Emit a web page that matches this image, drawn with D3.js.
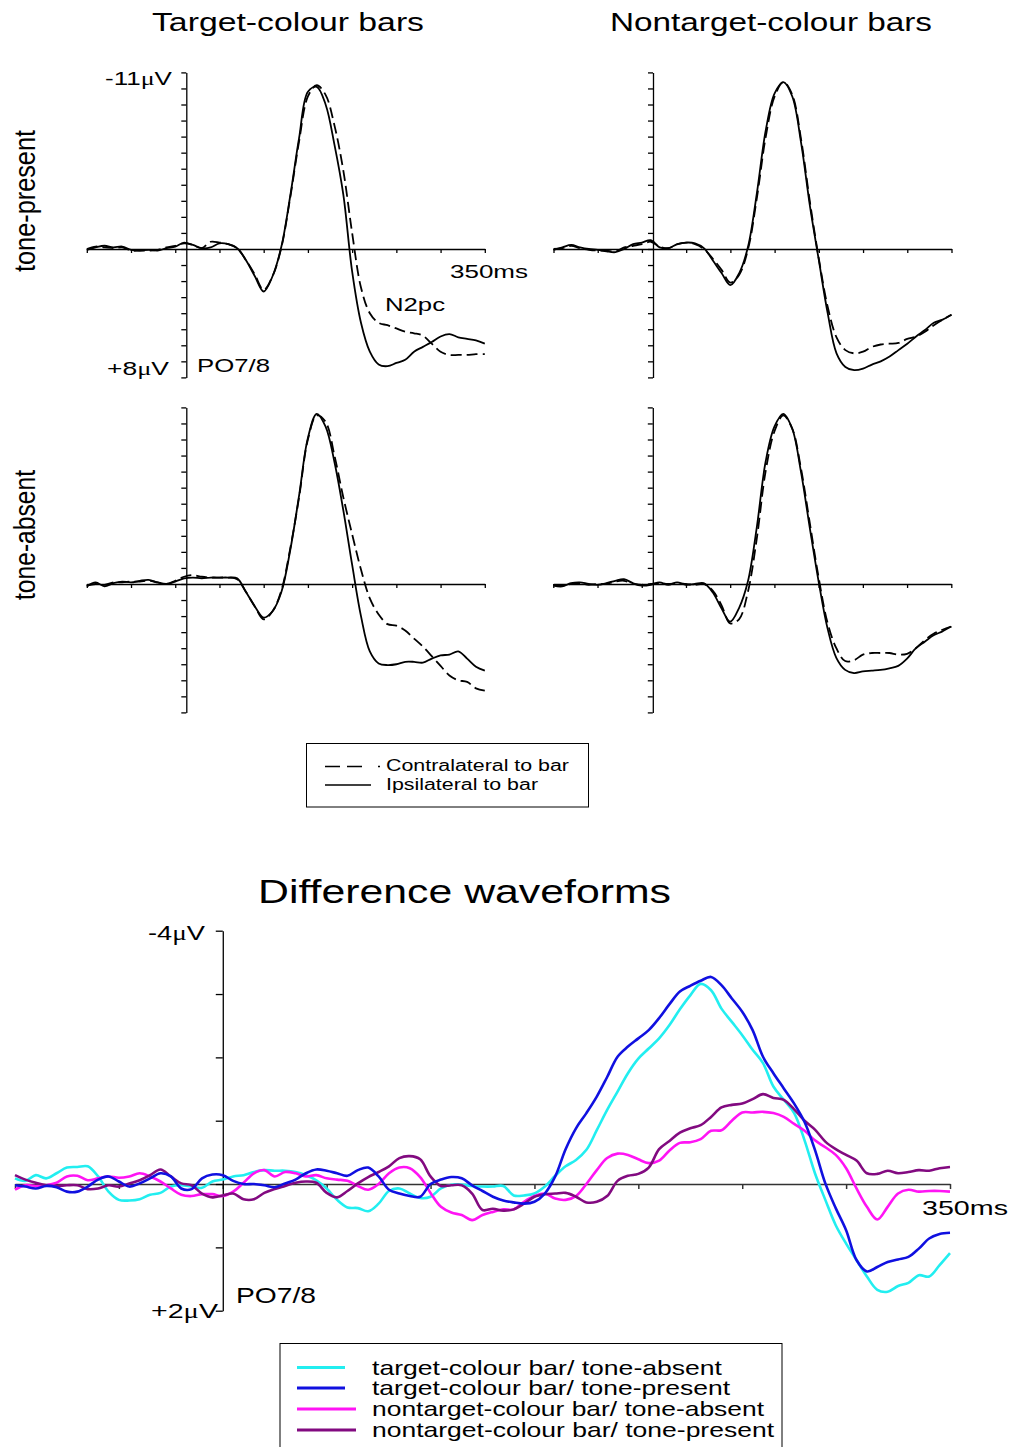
<!DOCTYPE html>
<html>
<head>
<meta charset="utf-8">
<script src="https://cdn.jsdelivr.net/npm/d3@7.9.0/dist/d3.min.js"></script>
<style>
  html, body { margin: 0; padding: 0; background: #fff; }
  svg { display: block; font-family: "Liberation Sans", Arial, sans-serif; }
</style>
</head>
<body>
<svg id="chart" width="1012" height="1447"></svg>
<script>
// time grids (ms)
const erpTimes = d3.range(-100, 351, 10);
const diffTimes = d3.range(-100, 351, 5);

// grand-average ERPs at PO7/8 (µV, positive = down), one value per erpTimes
const tpTargetIpsi = [0.05, -0.1, -0.2, -0.1, -0.15, 0.05, 0.1, 0.05, 0.1, -0.05,
  -0.15, -0.4, -0.25, -0.05, -0.1, -0.35, -0.3, -0.05, 0.7, 1.7,
  2.65, 1.7, -0.15, -3.3, -6.9, -9.8, -10.1, -9.0, -6.5, -3.4,
  1.4, 4.6, 6.4, 7.2, 7.3, 7.1, 6.9, 6.4, 6.1, 5.8,
  5.45, 5.3, 5.5, 5.6, 5.7, 5.9];
const tpTargetContra = [0.0, -0.15, -0.1, -0.05, -0.1, 0.1, 0.1, 0.1, 0.05, -0.1,
  -0.2, -0.35, -0.25, -0.05, -0.45, -0.4, -0.3, -0.05, 0.7, 1.6,
  2.55, 1.7, -0.1, -3.2, -6.7, -9.5, -10.2, -9.6, -7.7, -4.9,
  -1.0, 2.4, 4.0, 4.6, 4.75, 4.95, 5.15, 5.25, 5.4, 5.9,
  6.4, 6.6, 6.6, 6.6, 6.55, 6.55];
const tpNontargetIpsi = [0.05, -0.1, -0.25, -0.1, 0, 0.05, 0.15, 0.2, 0, -0.3,
  -0.4, -0.55, -0.1, -0.05, -0.3, -0.4, -0.35, -0.05, 0.7, 1.5,
  2.25, 1.5, -0.15, -3.5, -7.4, -9.7, -10.4, -9.5, -6.6, -2.65,
  0.7, 4.0, 6.5, 7.35, 7.55, 7.45, 7.2, 7.0, 6.7, 6.3,
  5.9, 5.45, 5.05, 4.6, 4.4, 4.1];
const tpNontargetContra = [0.0, -0.05, -0.2, -0.05, 0.05, 0.1, 0.1, 0.15, -0.1, -0.2,
  -0.3, -0.45, -0.15, -0.05, -0.3, -0.4, -0.3, 0.0, 0.6, 1.3,
  2.1, 1.6, 0.0, -3.2, -7.0, -9.5, -10.4, -9.6, -6.8, -2.9,
  0.6, 3.6, 5.5, 6.3, 6.5, 6.4, 6.1, 5.95, 5.9, 5.85,
  5.6, 5.45, 5.15, 4.75, 4.4, 4.1];
const taTargetIpsi = [0.15, -0.1, 0.15, -0.05, -0.15, -0.1, -0.2, -0.25, -0.1, 0.0,
  -0.15, -0.35, -0.4, -0.35, -0.4, -0.4, -0.4, -0.35, 0.5, 1.4,
  2.1, 1.7, 0.5, -2.1, -5.5, -9.1, -10.6, -9.8, -7.6, -4.6,
  -1.2, 2.0, 4.2, 4.95, 5.05, 5.0, 4.85, 4.85, 4.9, 4.65,
  4.45, 4.4, 4.2, 4.65, 5.15, 5.4];
const taTargetContra = [0.1, 0.0, 0.05, -0.1, -0.1, -0.15, -0.15, -0.2, -0.1, 0.0,
  -0.2, -0.45, -0.55, -0.45, -0.4, -0.4, -0.4, -0.3, 0.5, 1.4,
  2.2, 1.7, 0.4, -2.2, -5.4, -9.0, -10.5, -10.1, -8.0, -5.4,
  -3.1, -0.9, 0.9, 1.9, 2.5, 2.6, 2.9, 3.4, 3.9, 4.5,
  5.1, 5.7, 6.0, 6.1, 6.5, 6.65];
const taNontargetIpsi = [0.1, 0.15, -0.05, -0.1, 0.0, 0.05, -0.05, -0.2, -0.3, -0.05,
  0.1, 0.05, -0.1, 0.05, -0.1, 0.05, 0.0, -0.05, 0.5, 1.5,
  2.35, 1.5, -0.15, -3.5, -7.6, -9.8, -10.6, -9.7, -7.0, -3.5,
  -0.15, 2.75, 4.6, 5.35, 5.55, 5.45, 5.4, 5.35, 5.25, 5.1,
  4.65, 4.0, 3.6, 3.2, 2.95, 2.65];
const taNontargetContra = [0.05, 0.1, 0.0, -0.05, 0.05, 0.0, 0.0, -0.15, -0.2, 0.0,
  0.05, 0.0, -0.05, 0.0, -0.05, 0.0, 0.05, 0.0, 0.4, 1.3,
  2.45, 2.2, 0.5, -2.8, -7.0, -9.5, -10.5, -9.7, -7.2, -3.8,
  -0.4, 2.4, 4.0, 4.8, 4.75, 4.4, 4.3, 4.3, 4.3, 4.4,
  4.35, 4.0, 3.5, 3.1, 2.85, 2.65];

// contra minus ipsi difference waves (µV), one value per diffTimes
const diffTargetAbsent = [-0.09, -0.05, -0.14, -0.09, -0.17, -0.26, -0.27, -0.28, -0.12, 0.12,
  0.25, 0.26, 0.24, 0.17, 0.14, 0.04, 0.02, 0.04, 0.06, -0.04,
  -0.07, -0.12, -0.14, -0.19, -0.22, -0.21, -0.21, -0.19, -0.14, -0.06,
  0.07, 0.25, 0.37, 0.38, 0.43, 0.31, 0.11, 0.07, 0.15, 0.22,
  0.2, 0.07, 0.01, 0.01, 0.03, 0.04, 0.04, 0.03, 0.18, 0.18,
  0.15, 0.04, -0.13, -0.28, -0.38, -0.54, -0.85, -1.17, -1.46, -1.75,
  -1.98, -2.14, -2.3, -2.51, -2.76, -2.98, -3.16, -3.06, -2.77, -2.56,
  -2.35, -2.12, -1.91, -1.54, -1.33, -1.12, -0.69, -0.17, 0.25, 0.65,
  0.94, 1.2, 1.46, 1.67, 1.7, 1.61, 1.56, 1.44, 1.46, 1.28,
  1.09];
const diffTargetPresent = [0.02, 0.04, 0.07, 0.03, 0.05, 0.12, 0.12, 0.04, -0.07, -0.12,
  -0.04, 0.04, -0.01, -0.09, -0.17, -0.12, 0.07, 0.08, -0.09, -0.15,
  -0.14, -0.05, 0, 0, 0.02, 0.05, -0.01, -0.07, -0.17, -0.23,
  -0.21, -0.17, -0.13, -0.22, -0.26, -0.12, 0.09, 0.15, 0.19, 0.2,
  0, -0.07, -0.11, -0.09, 0.02, 0.11, 0.2, 0.26, 0.29, 0.31,
  0.28, 0.15, -0.12, -0.55, -0.88, -1.12, -1.38, -1.69, -2.01, -2.17,
  -2.3, -2.43, -2.62, -2.84, -3.04, -3.13, -3.21, -3.27, -3.14, -2.93,
  -2.72, -2.43, -2.01, -1.75, -1.51, -1.27, -0.98, -0.54, -0.01, 0.38,
  0.73, 1.2, 1.38, 1.31, 1.23, 1.19, 1.15, 1.02, 0.86, 0.79,
  0.77];
const diffNontargetAbsent = [0.09, 0.02, 0.03, 0.02, -0.02, -0.12, -0.13, -0.06, -0.09, -0.12,
  -0.1, -0.12, -0.17, -0.12, -0.04, 0.07, 0.17, 0.19, 0.16, 0.16,
  0.19, 0.12, -0.02, -0.17, -0.22, -0.12, -0.19, -0.17, -0.12, -0.14,
  -0.09, -0.07, -0.05, 0.03, 0.09, 0, -0.17, -0.26, -0.25, -0.11,
  0.14, 0.36, 0.45, 0.49, 0.57, 0.49, 0.44, 0.4, 0.4, 0.28,
  0.19, 0.15, 0.23, 0.25, 0.19, 0, -0.22, -0.41, -0.48, -0.46,
  -0.39, -0.33, -0.37, -0.53, -0.65, -0.66, -0.71, -0.84, -0.85, -1.0,
  -1.13, -1.13, -1.14, -1.12, -1.06, -0.95, -0.84, -0.69, -0.58, -0.46,
  -0.25, 0.07, 0.36, 0.56, 0.36, 0.15, 0.09, 0.12, 0.11, 0.11,
  0.12];
const diffNontargetPresent = [-0.14, -0.07, -0.02, 0.02, 0.03, 0.02, 0.02, 0.08, 0.07, 0.02,
  0.04, -0.01, -0.06, -0.14, -0.23, -0.12, -0.01, 0.02, 0.15, 0.21,
  0.18, 0.15, 0.24, 0.24, 0.14, 0.08, 0.03, -0.02, -0.04, -0.02,
  0.14, 0.21, 0.11, -0.01, -0.11, -0.19, -0.28, -0.41, -0.44, -0.39,
  -0.12, 0.03, 0.02, 0.02, 0.15, 0.41, 0.39, 0.42, 0.4, 0.31,
  0.2, 0.16, 0.15, 0.14, 0.2, 0.29, 0.28, 0.19, -0.05, -0.13,
  -0.16, -0.26, -0.55, -0.68, -0.81, -0.88, -0.93, -1.06, -1.21, -1.25,
  -1.27, -1.34, -1.42, -1.36, -1.33, -1.18, -1.0, -0.86, -0.67, -0.55,
  -0.46, -0.37, -0.17, -0.16, -0.21, -0.17, -0.19, -0.22, -0.21, -0.25,
  -0.27];

const columnTitles = ['Target-colour bars', 'Nontarget-colour bars'];
const rowTitles = ['tone-present', 'tone-absent'];
const erpLegend = ['Contralateral to bar', 'Ipsilateral to bar'];
const diffLegend = ['target-colour bar/ tone-absent', 'target-colour bar/ tone-present',
  'nontarget-colour bar/ tone-absent', 'nontarget-colour bar/ tone-present'];

const svg = d3.select('#chart');
svg.append('rect').attr('width', 1012).attr('height', 1447).attr('fill', '#fff');

// small helper for labels stretched to the widths seen in the figure
function label(x, y, str, size, len, anchor) {
  const t = svg.append('text')
    .attr('x', x).attr('y', y)
    .attr('font-size', size)
    .attr('text-anchor', anchor || 'start')
    .attr('fill', '#000');
  // µ set in a serif face like the original
  const parts = str.split('μ');
  t.append('tspan').text(parts[0]);
  if (parts.length > 1) {
    t.append('tspan').attr('font-family', '"Liberation Serif", serif').text('μ');
    t.append('tspan').text(parts[1]);
  }
  if (len) t.attr('textLength', len).attr('lengthAdjust', 'spacingAndGlyphs');
  return t;
}

// ---------- ERP panels ----------
const xErp = d3.scaleLinear().domain([-100, 350]).range([0, 398]);
const yErp = d3.scaleLinear().domain([-11, 8]).range([0, 305]);
const erpAxisMs = 12.5; // the vertical axis sits a little after onset in the original

const panels = [
  { x: 86.8, y: 72.4, contra: tpTargetContra, ipsi: tpTargetIpsi },
  { x: 553.5, y: 72.4, contra: tpNontargetContra, ipsi: tpNontargetIpsi },
  { x: 86.8, y: 407.4, contra: taTargetContra, ipsi: taTargetIpsi },
  { x: 553.3, y: 407.4, contra: taNontargetContra, ipsi: taNontargetIpsi }
];

const erpLine = d3.line()
  .x((d, i) => xErp(erpTimes[i]))
  .y(d => yErp(d))
  .curve(d3.curveCatmullRom.alpha(0.5));

panels.forEach(p => {
  const g = svg.append('g').attr('transform', `translate(${p.x},${p.y})`);

  g.append('g')
    .attr('transform', `translate(0,${yErp(0)})`)
    .call(d3.axisBottom(xErp).tickValues(d3.range(-100, 351, 50))
      .tickSize(4).tickSizeOuter(0).tickFormat(''));

  g.append('g')
    .attr('transform', `translate(${xErp(erpAxisMs)},0)`)
    .call(d3.axisLeft(yErp).tickValues(d3.range(-11, 9))
      .tickSize(5).tickSizeOuter(0).tickFormat(''));

  g.selectAll('.domain, .tick line').attr('stroke', '#000').attr('stroke-width', 1.3);

  g.append('path').datum(p.contra)
    .attr('d', erpLine).attr('fill', 'none')
    .attr('stroke', '#000').attr('stroke-width', 1.8)
    .attr('stroke-dasharray', '11,5');
  g.append('path').datum(p.ipsi)
    .attr('d', erpLine).attr('fill', 'none')
    .attr('stroke', '#000').attr('stroke-width', 1.8);
});

// column and row titles
label(152, 31, columnTitles[0], 25, 272);
label(610, 31, columnTitles[1], 25, 322);
label(0, 0, rowTitles[0], 30, 142).attr('transform', 'translate(35,272) rotate(-90)');
label(0, 0, rowTitles[1], 30, 130).attr('transform', 'translate(35,600) rotate(-90)');

// top-left panel annotations
label(172, 85, '-11μV', 19, 67, 'end');
label(169, 375, '+8μV', 19, 62, 'end');
label(197, 372, 'PO7/8', 19, 73);
label(450, 278, '350ms', 19, 78);
label(385, 311, 'N2pc', 19, 60);

// ERP legend
svg.append('rect').attr('x', 306.5).attr('y', 743.5).attr('width', 282).attr('height', 63.5)
  .attr('fill', 'none').attr('stroke', '#000').attr('stroke-width', 1);
svg.append('line').attr('x1', 325).attr('x2', 380).attr('y1', 766.5).attr('y2', 766.5)
  .attr('stroke', '#000').attr('stroke-width', 1.5).attr('stroke-dasharray', '15,7,15,16,2');
svg.append('line').attr('x1', 325).attr('x2', 371).attr('y1', 785).attr('y2', 785)
  .attr('stroke', '#000').attr('stroke-width', 1.5);
label(386, 771, erpLegend[0], 16, 183);
label(386, 790, erpLegend[1], 16, 152);

// ---------- Difference waveforms ----------
const xDiff = d3.scaleLinear().domain([-100, 350]).range([15, 950]);
const yDiff = d3.scaleLinear().domain([-4, 2]).range([930.7, 1310.7]);

label(258, 903, 'Difference waveforms', 33, 413);

const gx = svg.append('g')
  .attr('transform', `translate(0,${yDiff(0)})`)
  .call(d3.axisBottom(xDiff).tickValues(d3.range(-100, 351, 50))
    .tickSize(5).tickSizeOuter(0).tickFormat(''));
gx.selectAll('.domain, .tick line').attr('stroke', '#333').attr('stroke-width', 1.5);

const gy = svg.append('g')
  .attr('transform', `translate(${xDiff(0)},0)`)
  .call(d3.axisLeft(yDiff).tickValues(d3.range(-4, 3))
    .tickSize(7).tickSizeOuter(0).tickFormat(''));
gy.selectAll('.domain, .tick line').attr('stroke', '#000').attr('stroke-width', 1.3);

const diffSeries = [
  { values: diffTargetAbsent, color: '#22eef0' },
  { values: diffTargetPresent, color: '#1010e0' },
  { values: diffNontargetAbsent, color: '#ff14f4' },
  { values: diffNontargetPresent, color: '#820a80' }
];

const diffLine = d3.line()
  .x((d, i) => xDiff(diffTimes[i]))
  .y(d => yDiff(d))
  .curve(d3.curveCatmullRom.alpha(0.5));

[0, 2, 3, 1].forEach(k => {
  svg.append('path').datum(diffSeries[k].values)
    .attr('d', diffLine).attr('fill', 'none')
    .attr('stroke', diffSeries[k].color).attr('stroke-width', 2.6)
    .attr('stroke-linejoin', 'round');
});

label(205, 940, '-4μV', 21, 57, 'end');
label(218, 1318, '+2μV', 21, 67, 'end');
label(236, 1303, 'PO7/8', 22, 80);
label(922, 1215, '350ms', 21, 86);

// difference legend (box runs off the bottom edge, as in the figure)
svg.append('rect').attr('x', 280).attr('y', 1343.5).attr('width', 502).attr('height', 120)
  .attr('fill', 'none').attr('stroke', '#000').attr('stroke-width', 1);
const legendRows = [
  { y: 1367.5, len: 48, textLen: 350 },
  { y: 1388, len: 48, textLen: 358 },
  { y: 1409, len: 59, textLen: 392 },
  { y: 1430, len: 59, textLen: 402 }
];
legendRows.forEach((r, i) => {
  svg.append('line').attr('x1', 297).attr('x2', 297 + r.len)
    .attr('y1', r.y).attr('y2', r.y)
    .attr('stroke', diffSeries[i].color).attr('stroke-width', 3);
  label(372, r.y + 7, diffLegend[i], 21, r.textLen);
});
</script>
</body>
</html>
